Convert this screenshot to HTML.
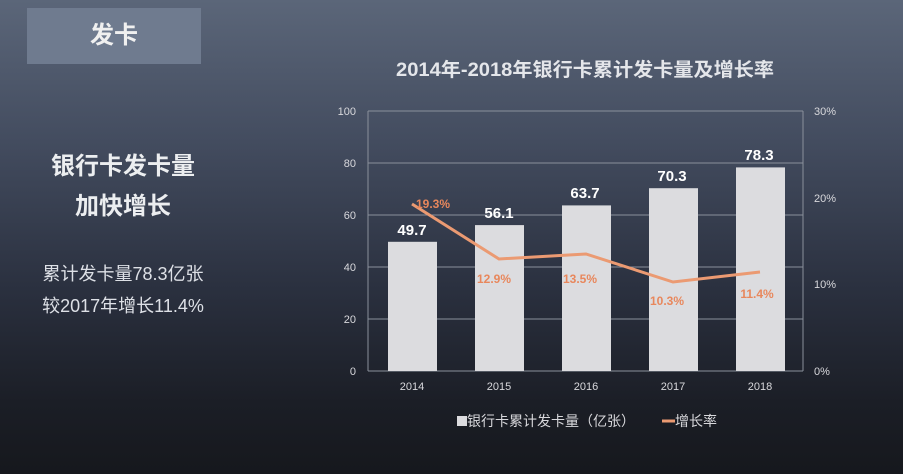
<!DOCTYPE html>
<html><head><meta charset="utf-8"><style>
html,body{margin:0;padding:0}
body{width:903px;height:474px;overflow:hidden;background:linear-gradient(180deg,#5b6679 0%,#434c5f 30%,#2b3140 60%,#1b1e26 85%,#16181d 100%);font-family:"Liberation Sans","Noto Sans CJK SC",sans-serif;position:relative}
.tag{position:absolute;left:27px;top:8px;width:174px;height:56px;background:#6f7b8f;color:#f0f0f0;font-size:24px;font-weight:bold;text-align:center;line-height:56px}
.h{position:absolute;left:0;width:246px;text-align:center;color:#eceef0;font-size:24px;font-weight:bold}
.s{position:absolute;left:0;width:246px;text-align:center;color:#dde0e6;font-size:18px}
</style></head><body>
<div class="tag">发卡</div>
<div class="h" style="top:146px">银行卡发卡量</div>
<div class="h" style="top:186px">加快增长</div>
<div class="s" style="top:260px">累计发卡量78.3亿张</div>
<div class="s" style="top:292px">较2017年增长11.4%</div>
<svg width="903" height="474" style="position:absolute;left:0;top:0" font-family="Liberation Sans, Noto Sans CJK SC, sans-serif">
<text x="585" y="76" text-anchor="middle" fill="#e4e6ea" font-size="19" font-weight="bold" textLength="378" lengthAdjust="spacingAndGlyphs">2014年-2018年银行卡累计发卡量及增长率</text>
<g stroke="#8a909b" stroke-width="1">
<line x1="368" y1="111" x2="803" y2="111"/><line x1="368" y1="163" x2="803" y2="163"/>
<line x1="368" y1="215" x2="803" y2="215"/><line x1="368" y1="267" x2="803" y2="267"/>
<line x1="368" y1="319" x2="803" y2="319"/><line x1="368" y1="371" x2="803" y2="371"/>
<line x1="368" y1="111" x2="368" y2="371"/><line x1="803" y1="111" x2="803" y2="371"/>
</g>
<g fill="#d8d8dc" font-size="11" text-anchor="end">
<text x="356" y="115">100</text><text x="356" y="167">80</text><text x="356" y="219">60</text><text x="356" y="271">40</text><text x="356" y="323">20</text><text x="356" y="375">0</text>
</g>
<g fill="#d8d8dc" font-size="11">
<text x="814" y="115">30%</text><text x="814" y="202">20%</text><text x="814" y="288">10%</text><text x="814" y="375">0%</text>
</g>
<g fill="#dcdcdf">
<rect x="388" y="241.8" width="49" height="129.2"/>
<rect x="475" y="225.1" width="49" height="145.9"/>
<rect x="562" y="205.4" width="49" height="165.6"/>
<rect x="649" y="188.2" width="49" height="182.8"/>
<rect x="736" y="167.4" width="49" height="203.6"/>
</g>
<g fill="#d8d8dc" font-size="11" text-anchor="middle">
<text x="412" y="390">2014</text><text x="499" y="390">2015</text><text x="586" y="390">2016</text><text x="673" y="390">2017</text><text x="760" y="390">2018</text>
</g>
<g fill="#ffffff" font-size="15" font-weight="bold" text-anchor="middle">
<text x="412" y="235">49.7</text><text x="499" y="218">56.1</text><text x="585" y="198">63.7</text><text x="672" y="181">70.3</text><text x="759" y="160">78.3</text>
</g>
<polyline points="412,204 499,259 586,254 673,282 760,272" fill="none" stroke="#eb9a72" stroke-width="3"/>
<g fill="#e8875c" font-size="12" font-weight="bold" text-anchor="middle">
<text x="433" y="208">19.3%</text><text x="494" y="283">12.9%</text><text x="580" y="283">13.5%</text><text x="667" y="305">10.3%</text><text x="757" y="298">11.4%</text>
</g>
<rect x="457" y="416" width="10" height="10" fill="#dcdcdf"/>
<text x="467" y="426" fill="#d8d8dc" font-size="14">银行卡累计发卡量（亿张）</text>
<line x1="662" y1="421" x2="675" y2="421" stroke="#eb9a72" stroke-width="3"/>
<text x="675" y="426" fill="#d8d8dc" font-size="14">增长率</text>
</svg>
</body></html>
